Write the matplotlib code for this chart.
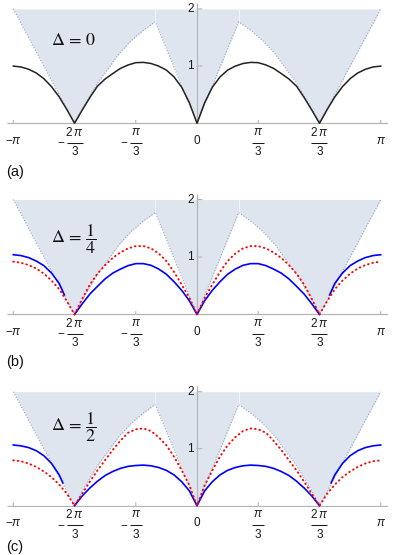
import numpy as np
import matplotlib
matplotlib.use("Agg")
import matplotlib.pyplot as plt
import matplotlib.transforms as mtransforms

plt.rcParams['mathtext.fontset'] = 'custom'
plt.rcParams['mathtext.rm'] = 'Liberation Sans'
plt.rcParams['mathtext.it'] = 'Liberation Sans:italic'
plt.rcParams['font.family'] = ['Liberation Sans', 'DejaVu Sans']

PI = np.pi

# ---------------- data (x in units of pi, half curves, symmetric in k) ----------------
grid = [k / 24 for k in range(25)]          # 0 .. 1

# panel (a): Delta = 0, single branch (black)
black_a = [0, 0.36, 0.63, 0.81, 0.93, 1.00, 1.045, 1.065, 1.06, 1.02, 0.96, 0.87,
           0.775, 0.65, 0.45, 0.23, 0, 0.24, 0.46, 0.64, 0.78, 0.88, 0.945, 0.985, 1.0]

# panel (b): Delta = 1/4
blue_b_inner = [0, 0.24, 0.42, 0.57, 0.70, 0.79, 0.855, 0.885, 0.885, 0.85, 0.79, 0.72,
                0.62, 0.49, 0.355, 0.185, 0]
blue_b_outer_x = [0.722, 0.75, 0.7917, 0.8333, 0.875, 0.9167, 0.9583, 1.0]
blue_b_outer = [0.34, 0.54, 0.72, 0.85, 0.93, 0.99, 1.025, 1.04]
red_b = [0, 0.29, 0.52, 0.74, 0.93, 1.06, 1.15, 1.19, 1.19, 1.15, 1.08, 0.985,
         0.86, 0.71, 0.52, 0.27, 0, 0.23, 0.44, 0.59, 0.71, 0.80, 0.86, 0.90, 0.92]

# panel (c): Delta = 1/2
blue_c_inner = [0, 0.26, 0.42, 0.54, 0.62, 0.67, 0.70, 0.712, 0.705, 0.69, 0.655, 0.60,
                0.53, 0.43, 0.31, 0.17, 0]
blue_c_outer_x = [0.73, 0.75, 0.7917, 0.8333, 0.875, 0.9167, 0.9583, 1.0]
blue_c_outer = [0.40, 0.54, 0.74, 0.877, 0.965, 1.02, 1.05, 1.065]
red_c = [0, 0.36, 0.62, 0.86, 1.06, 1.20, 1.31, 1.355, 1.34, 1.28, 1.14, 0.98,
         0.80, 0.62, 0.42, 0.21, 0, 0.21, 0.37, 0.50, 0.60, 0.68, 0.74, 0.78, 0.795]

# continuum lower edge (same in all panels), positive half
edge_x = [0, 0.2267, 0.295, 0.3626, 0.426, 0.489, 0.535, 0.58, 0.62, 0.643, 0.6667, 1.0]
edge_y = [0, 1.776, 1.62, 1.43, 1.21, 0.93, 0.735, 0.495, 0.28, 0.145, 0, 2.0]
edge_top = 2.0

# x tick labels: (position in units of pi, sign, numerator, denominator)
xtick_vals = [-1, -2 / 3, -1 / 3, 0, 1 / 3, 2 / 3, 1]
xtick_sign = ['-', '-', '-', '', '', '', '']
xtick_num = [r'$\pi$', r'$2\,\pi$', r'$\pi$', '0', r'$\pi$', r'$2\,\pi$', r'$\pi$']
xtick_den = ['', '3', '3', '', '3', '3', '']
ytick_vals = [1, 2]
delta_labels = [r'$\Delta\,=\,0$', r'$\Delta\,=\,\dfrac{1}{4}$', r'$\Delta\,=\,\dfrac{1}{2}$']
panel_letters = ['(a)', '(b)', '(c)']


def mirror(xh, yh):
    xh = np.asarray(xh, float); yh = np.asarray(yh, float)
    x = np.concatenate([-xh[::-1], xh[1:]]) * PI
    y = np.concatenate([yh[::-1], yh[1:]])
    return x, y


# ---------------- figure ----------------
W, H = 395, 555
fig = plt.figure(figsize=(W / 100, H / 100), dpi=100)

xl = (-3.249, 3.266)
yl = (-0.03, 2.1)
boxes = [(3.2, 125.0), (193.8, 316.2), (386.0, 507.4)]
left_px, right_px = 7.0, 388.0
px_per_x = (right_px - left_px) / (xl[1] - xl[0])

SHADE = '#dfe5ef'
EDGE = '#94a6c8'
AX = '#b5b5b5'
TXT = '#1a1a1a'
TFS = 8.5

delta_pos = [(-2.50, 1.37), (-2.50, 1.25), (-2.50, 1.31)]
letter_y = [171.7, 361.7, 547.0]

for i in range(3):
    t, b = boxes[i]
    ax = fig.add_axes([left_px / W, 1 - b / H, (right_px - left_px) / W, (b - t) / H])
    ax.set_xlim(*xl); ax.set_ylim(*yl)
    ax.axis('off')

    # continuum
    ex, ey = mirror(edge_x, edge_y)
    ax.fill_between(ex, ey, edge_top, color=SHADE, lw=0, zorder=1)
    ax.plot(ex, ey, color=EDGE, lw=0.8, ls=(0, (1, 1.6)), zorder=2)
    pk = edge_x[1] * PI
    for s in (-1, 1):
        ax.plot([s * pk, s * pk], [edge_y[1], edge_top], color='white', lw=0.6, alpha=0.7, zorder=2)

    # axes lines
    ax.plot([xl[0], xl[1]], [0, 0], color=AX, lw=0.9, zorder=3, solid_capstyle='butt')
    ax.plot([0, 0], [0, yl[1]], color=AX, lw=0.9, zorder=3, solid_capstyle='butt')

    for j, xv in enumerate(xtick_vals):
        xp = xv * PI
        ax.annotate('', xy=(xp, 0), xytext=(0, 3), textcoords='offset pixels',
                    arrowprops=dict(arrowstyle='-', color=AX, lw=0.8, shrinkA=0, shrinkB=0))
        if xtick_den[j] == '':
            lab = ('\u2212' if xtick_sign[j] == '-' else '') + xtick_num[j]
            ax.annotate(lab, xy=(xp, 0), xytext=(0, -17.5), textcoords='offset pixels',
                        ha='center', va='center', fontsize=TFS, color=TXT)
        else:
            wide = '2' in xtick_num[j]
            hw = 8.0 if wide else 6.0
            ax.annotate(xtick_num[j], xy=(xp, 0), xytext=(0, -8.8), textcoords='offset pixels',
                        ha='center', va='center', fontsize=TFS, color=TXT)
            ax.annotate(xtick_den[j], xy=(xp, 0), xytext=(0, -29.0), textcoords='offset pixels',
                        ha='center', va='center', fontsize=TFS, color=TXT)
            tr = mtransforms.offset_copy(ax.transData, fig=fig, x=0, y=-19.3, units='dots')
            ax.plot([xp - hw / px_per_x, xp + hw / px_per_x], [0, 0], color=TXT, lw=0.75,
                    transform=tr, clip_on=False, solid_capstyle='butt')
            if xtick_sign[j] == '-':
                ax.annotate('\u2212', xy=(xp, 0), xytext=(-(hw + 5.5), -19.0),
                            textcoords='offset pixels', ha='center', va='center',
                            fontsize=TFS, color=TXT)

    for yv in ytick_vals:
        ax.annotate('', xy=(0, yv), xytext=(5, 0), textcoords='offset pixels',
                    arrowprops=dict(arrowstyle='-', color=AX, lw=0.8, shrinkA=0, shrinkB=0))
        ax.annotate(str(yv), xy=(0, yv), xytext=(-3, 0), textcoords='offset pixels',
                    ha='right', va='center', fontsize=TFS, color=TXT)

    # curves
    if i == 0:
        x, y = mirror(grid, black_a)
        ax.plot(x, y, color='#222222', lw=1.1, zorder=5, clip_on=False)
    else:
        bi = blue_b_inner if i == 1 else blue_c_inner
        bx = blue_b_outer_x if i == 1 else blue_c_outer_x
        by = blue_b_outer if i == 1 else blue_c_outer
        rr = red_b if i == 1 else red_c
        x, y = mirror(grid[:17], bi)
        ax.plot(x, y, color='#0000ff', lw=1.2, zorder=5, clip_on=False)
        bxa = np.asarray(bx) * PI
        ax.plot(bxa, by, color='#0000ff', lw=1.2, zorder=5)
        ax.plot(-bxa, by, color='#0000ff', lw=1.2, zorder=5)
        x, y = mirror(grid, rr)
        ax.plot(x, y, color='#ff0000', lw=1.4, ls=(0, (0.3, 2.0)), dash_capstyle='round',
                zorder=6, clip_on=False)

    dx, dy = delta_pos[i]
    ax.text(dx, dy, delta_labels[i], fontsize=13, math_fontfamily='stix', ha='left',
            va='baseline', zorder=7, color='#111111')

    fig.text(6 / W, 1 - letter_y[i] / H, panel_letters[i], fontsize=10.5, ha='left',
             va='center', color='#111111')

fig.savefig('out.png', dpi=100)
